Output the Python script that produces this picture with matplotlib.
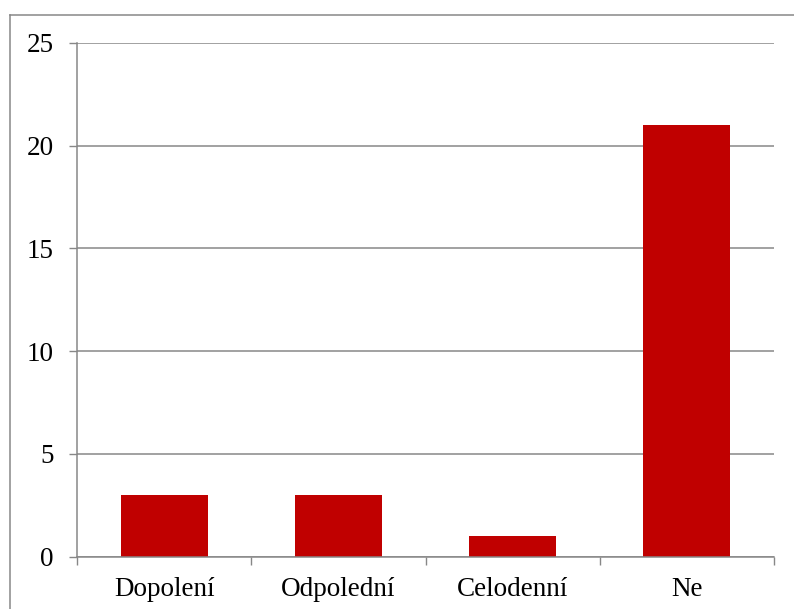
import matplotlib
matplotlib.use("Agg")
import matplotlib.pyplot as plt
from matplotlib.lines import Line2D

categories = ["Dopolení", "Odpolední", "Celodenní", "Ne"]
values = [3, 3, 1, 21]
y_ticks = [0, 5, 10, 15, 20, 25]

W, H = 794, 609
gray = "#878787"

plt.rcParams["font.family"] = ["Liberation Serif", "DejaVu Serif"]

fig = plt.figure(figsize=(W / 100, H / 100), dpi=100)
ax = fig.add_axes([77 / W, 1 - 556.5 / H, (774 - 77) / W, (556.5 - 43) / H])

x = list(range(len(categories)))
ax.bar(x, values, width=0.5, color="#C00000", zorder=3)

ax.set_xlim(-0.5, len(categories) - 0.5)
ax.set_ylim(0, 25)
ax.set_yticks(y_ticks)
ax.set_yticklabels([str(v) for v in y_ticks], fontsize=19.5)
ax.set_xticks(x)
ax.set_xticklabels(categories, fontsize=19.5)
ax.tick_params(axis="x", length=0, pad=15)
ax.tick_params(axis="y", length=6, width=1, color=gray, direction="out", pad=11)

# category boundary ticks on the x axis
ax.set_xticks([i - 0.5 for i in range(len(categories) + 1)], minor=True)
ax.tick_params(axis="x", which="minor", length=5.5, width=1, color=gray, direction="out")

ax.grid(axis="y", color=gray, linewidth=1.1, zorder=0)
for side in ["top", "right"]:
    ax.spines[side].set_visible(False)
for side in ["left", "bottom"]:
    ax.spines[side].set_color(gray)
    ax.spines[side].set_linewidth(1.1)
    ax.spines[side].set_zorder(4)

# chart border (cut off at right and bottom)
fig.add_artist(Line2D([9.5 / W, 9.5 / W], [0, 1 - 14.5 / H], color=gray, linewidth=1.1))
fig.add_artist(Line2D([9.5 / W, 1], [1 - 14.5 / H, 1 - 14.5 / H], color=gray, linewidth=1.1))

fig.savefig("out.png", dpi=100)
